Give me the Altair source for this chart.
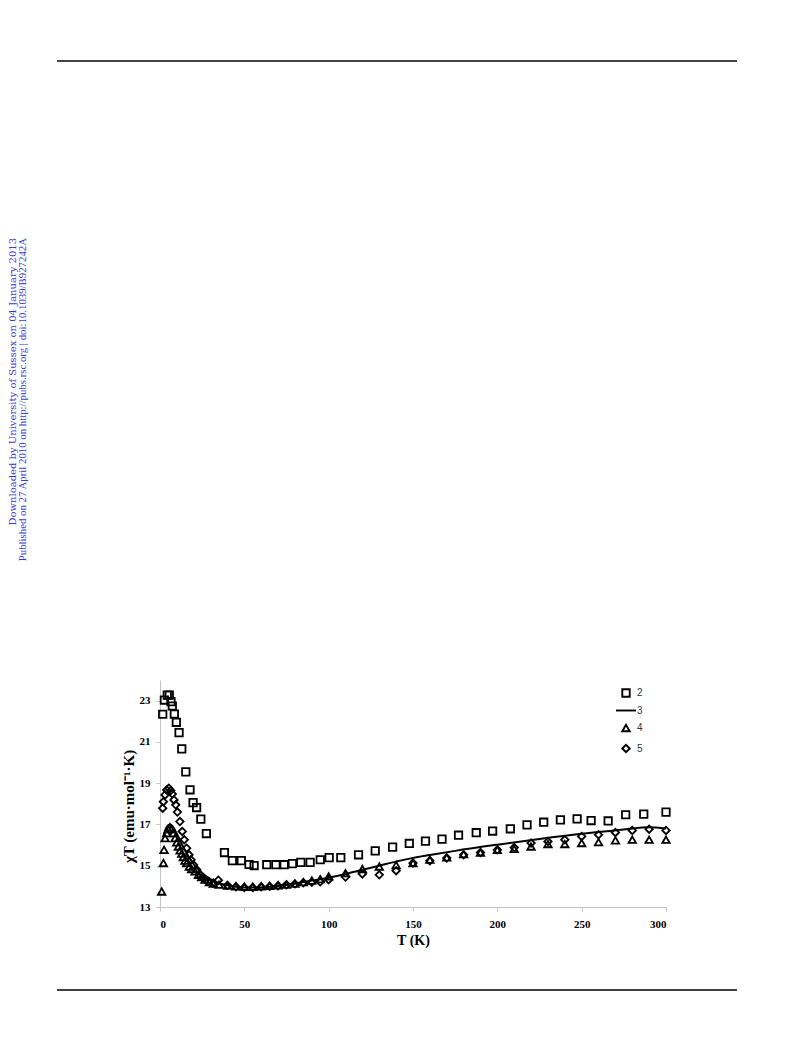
import altair as alt
import pandas as pd

# ---- data ----
sq_T = [1.6, 2.6, 4.3, 5.5, 6.5, 7.3, 8.5, 9.7, 11.3, 12.9, 15.3, 17.8, 19.6, 21.7, 24.2, 27.5,
        38.2, 42.9, 48.2, 52.8, 55.8, 63.3, 68.7, 73.6, 78.5, 83.5, 89.0, 95.0, 100.3, 107.2,
        117.7, 127.6, 137.9, 147.8, 157.4, 167.2, 177.0, 187.5, 197.2, 207.7, 217.6, 227.5,
        237.4, 247.3, 255.6, 265.7, 276.1, 286.8, 300.0]
sq_v = [22.34, 23.03, 23.27, 23.27, 22.95, 22.74, 22.35, 21.95, 21.45, 20.66, 19.55, 18.68, 18.06,
        17.82, 17.26, 16.56, 15.64, 15.25, 15.25, 15.06, 15.01, 15.05, 15.05, 15.05, 15.1, 15.16,
        15.16, 15.29, 15.39, 15.39, 15.53, 15.72, 15.9, 16.08, 16.19, 16.29, 16.48, 16.6, 16.68,
        16.79, 16.98, 17.11, 17.22, 17.27, 17.19, 17.17, 17.47, 17.5, 17.6]

tri_T = [1.0, 2.0, 2.4, 3.0, 4.0, 4.9, 5.9, 6.9, 7.9, 8.9, 9.9, 10.9, 11.9, 12.9, 13.8, 14.8, 15.8,
         17.4, 18.8, 20.8, 22.8, 24.7, 26.7, 29.3, 31.6,
         35, 40, 45, 50, 55, 60, 65, 70, 75, 80, 85, 90, 95, 100, 110, 120,
         130, 140, 150, 160, 170, 180, 190, 200, 210, 220, 230, 240, 250, 260, 270, 280, 290, 300]
tri_v = [13.75, 15.13, 15.77, 16.34, 16.58, 16.77, 16.87, 16.77, 16.58, 16.34, 16.13, 15.93, 15.74,
         15.58, 15.42, 15.25, 15.13, 14.96, 14.84, 14.72, 14.56, 14.45, 14.32, 14.21, 14.13,
         14.08, 14.03, 14.0, 13.98, 13.98, 14.0, 14.02, 14.05, 14.08, 14.13, 14.2, 14.28, 14.35,
         14.48, 14.64, 14.84,
         14.96, 15.03, 15.13, 15.29, 15.4, 15.56, 15.64, 15.77, 15.81, 15.93, 16.05, 16.05, 16.1,
         16.14, 16.23, 16.26, 16.26, 16.26]

dia_T = [1.6, 2.0, 3.0, 4.0, 5.2, 6.4, 7.3, 8.3, 9.3, 10.3, 11.8, 13.2, 14.4, 15.8, 17.2, 18.4,
         19.8, 21.8, 23.7, 25.7, 28.7, 31.6, 34.6,
         40, 45, 50, 55, 60, 65, 70, 75, 80, 85, 90, 95, 100, 110, 120,
         130, 140, 150, 160, 170, 180, 190, 200, 210, 220, 230, 240, 250, 260, 270, 280, 290, 300]
dia_v = [17.79, 18.1, 18.43, 18.67, 18.76, 18.64, 18.48, 18.19, 17.95, 17.6, 17.14, 16.66, 16.26,
         15.85, 15.53, 15.29, 15.05, 14.8, 14.56, 14.4, 14.24, 14.16, 14.3,
         14.05, 13.98, 13.95, 13.95, 13.98, 14.0, 14.03, 14.08, 14.12, 14.17, 14.2, 14.22, 14.32,
         14.45, 14.6,
         14.56, 14.76, 15.13, 15.24, 15.37, 15.53, 15.64, 15.77, 15.88, 16.1, 16.17, 16.26, 16.42,
         16.5, 16.61, 16.71, 16.77, 16.71]

line_T = [2, 3, 4, 5, 6, 7, 8, 9, 10, 12, 14, 16, 18, 20, 22, 25, 28, 31, 35, 40, 45, 50, 55, 60,
          70, 80, 90, 100, 110, 120, 130, 140, 150, 160, 175, 200, 225, 250, 275, 290, 300]
line_v = [16.4, 16.7, 16.88, 16.97, 17.0, 16.95, 16.85, 16.7, 16.55, 16.2, 15.88, 15.58, 15.32,
          15.08, 14.88, 14.65, 14.45, 14.3, 14.15, 14.05, 13.98, 13.95, 13.94, 13.95, 14.02, 14.13,
          14.28, 14.42, 14.6, 14.8, 15.0, 15.2, 15.38, 15.52, 15.72, 16.02, 16.3, 16.55, 16.75,
          16.87, 16.8]

series_names = ["2", "3", "4", "5"]
x_ticks = [0, 50, 100, 150, 200, 250, 300]
y_ticks = [13, 15, 17, 19, 21, 23]

note1 = "Downloaded by University of Sussex on 04 January 2013"
note2 = "Published on 27 April 2010 on http://pubs.rsc.org | doi:10.1039/B927242A"

# ---- tables ----
pts = pd.concat([
    pd.DataFrame({"T": sq_T, "v": sq_v, "series": "2"}),
    pd.DataFrame({"T": tri_T, "v": tri_v, "series": "4"}),
    pd.DataFrame({"T": dia_T, "v": dia_v, "series": "5"}),
], ignore_index=True)
line_df = pd.DataFrame({"T": line_T, "v": line_v})
one = pd.DataFrame({"a": [0]})

LINE_SYMBOL = "M-2.7,0L2.7,0"
serif = "Liberation Serif"

xenc = alt.X("T:Q", scale=alt.Scale(domain=[0, 300], nice=False, zero=False),
             axis=alt.Axis(values=x_ticks, title="T (K)", grid=False,
                           labelFont=serif, labelFontWeight="bold", labelFontSize=11,
                           labelColor="black", labelPadding=7,
                           titleFont=serif, titleFontWeight="bold", titleFontSize=14,
                           titleColor="black", titlePadding=4,
                           domainColor="#c4c4c4", tickColor="#c4c4c4", tickSize=4))
yenc = alt.Y("v:Q", scale=alt.Scale(domain=[13, 24], nice=False, zero=False),
             axis=alt.Axis(values=y_ticks, title="χT (emu·mol⁻¹·K)", grid=False,
                           labelFont=serif, labelFontWeight="bold", labelFontSize=11,
                           labelColor="black", labelPadding=6,
                           titleFont=serif, titleFontWeight="bold", titleFontSize=15,
                           titleColor="black", titleX=-32, titleY=126,
                           titleBaseline="middle", titleAlign="center", titleAngle=270,
                           domainColor="#c4c4c4", tickColor="#c4c4c4", tickSize=4))

points = alt.Chart(pts).mark_point(filled=False, color="black", strokeWidth=1.8, size=55,
                                   opacity=1).encode(
    x=xenc, y=yenc,
    shape=alt.Shape("series:N",
                    scale=alt.Scale(domain=series_names,
                                    range=["square", LINE_SYMBOL, "triangle-up", "diamond"]),
                    legend=alt.Legend(title=None, orient="none", legendX=461, legendY=8,
                                      labelFont="Liberation Sans", labelFontSize=10,
                                      labelColor="#333", labelOffset=6, rowPadding=4.5,
                                      symbolSize=55, symbolStrokeColor="black",
                                      symbolStrokeWidth=1.9, symbolFillColor="transparent")),
)

line = alt.Chart(line_df).mark_line(color="black", strokeWidth=2, interpolate="monotone").encode(
    x="T:Q", y="v:Q")

top_rule = alt.Chart(one).mark_rule(color="#444", strokeWidth=2).encode(
    x=alt.value(-103), x2=alt.value(577), y=alt.value(-619))
bottom_rule = alt.Chart(one).mark_rule(color="black", strokeWidth=1.5).encode(
    x=alt.value(-103), x2=alt.value(577), y=alt.value(310))
text1 = alt.Chart(one).mark_text(angle=270, align="right", baseline="middle", font="DejaVu Serif",
                                 fontSize=10, color="#3a3acb").encode(
    x=alt.value(-147), y=alt.value(-442), text=alt.value(note1))
text2 = alt.Chart(one).mark_text(angle=270, align="right", baseline="middle", font=serif,
                                 fontSize=10.8, color="#3a3acb").encode(
    x=alt.value(-137), y=alt.value(-442), text=alt.value(note2))

chart = alt.layer(line, points, top_rule, bottom_rule, text1, text2).properties(
    width=506, height=227,
    autosize=alt.AutoSizeParams(type="none"),
    padding={"left": 152, "top": 672, "right": 119, "bottom": 100},
    background="white",
).configure_view(stroke=None)

chart.save("out.html", embed_options={"renderer": "svg", "actions": False})
